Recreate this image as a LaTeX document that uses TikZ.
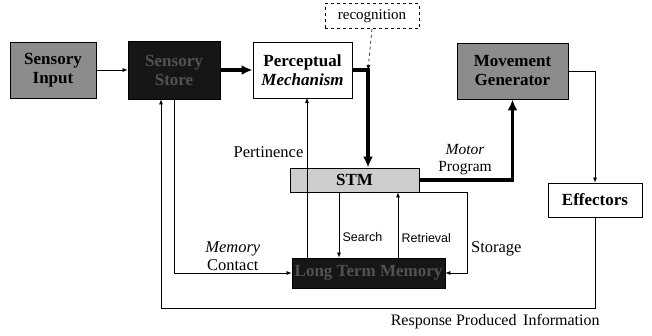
\documentclass[tikz,border=0pt]{standalone}
\usepackage{fontspec}
\setmainfont{Liberation Serif}
\setsansfont{Liberation Sans}
\usetikzlibrary{positioning,arrows.meta}
\definecolor{shd}{RGB}{140,140,140}
\definecolor{lit}{RGB}{205,205,205}
\definecolor{drk}{RGB}{22,22,22}

\begin{document}
\begin{tikzpicture}[x=1pt,y=-1pt,font=\fontsize{16.5}{18}\selectfont,>={Latex[length=5pt,width=4pt]},
  box/.style={draw,line width=0.9pt,inner sep=0pt,align=center,font=\fontsize{17}{19}\selectfont\bfseries},
  grey/.style={box,fill=shd},
  dark/.style={box,fill=drk,text=black!68},
  lbl/.style={align=center,inner sep=2pt},
  thin/.style={line width=0.6pt},
  fat/.style={line width=3.2pt,-{Latex[length=11pt,width=10pt]}}]
  \useasboundingbox (0,0) rectangle (652,335);
  % top row
  \node[grey,minimum width=86pt,minimum height=56pt] (sin) at (53,70) {Sensory\\Input};
  \node[dark,minimum width=92pt,minimum height=58pt] (sst) at (174,70) {Sensory\\Store};
  \node[box,minimum width=99pt,minimum height=56pt] (per) at (302.5,70) {Perceptual\\\textit{Mechanism}};
  \node[grey,minimum width=111pt,minimum height=56pt] (mov) at (512.5,71) {Movement\\Generator};
  \node[draw,dashed,thin,inner sep=0pt,minimum width=94pt,minimum height=25pt,font=\fontsize{15}{17}\selectfont] (rec) at (372,16) {recognition};
  % middle and bottom
  \node[box,fill=lit,minimum width=129pt,minimum height=24pt] (stm) at (354.5,180) {STM};
  \node[box,minimum width=94pt,minimum height=34pt] (eff) at (595,200) {Effectors};
  \node[dark,minimum width=153pt,minimum height=30pt] (ltm) at (368.5,273) {Long Term Memory};
  \coordinate (rk) at (368,70);
  \coordinate (pt) at (307,98);
  \coordinate (sr) at (339,0);
  \coordinate (rt) at (398,0);
  \coordinate (fb) at (161,308);
  % connectors
  \draw[thin,->] (sin) -- (sst);
  \draw[fat] (sst) -- (per);
  \draw[fat] (per.east) -- (rk) -- (rk |- stm.north);
  \draw[thin,dashed,->] (rec.south) -- (rk);
  \draw[fat] (stm.east) -| (mov.south);
  \node[lbl,font=\fontsize{15.5}{17}\selectfont] (mp) at (465,160) {\textit{Motor}\\Program};
  \draw[thin,->] (mov.east) -| (eff.north);
  \draw[thin,->] (eff.south) |- node[below,pos=0.615,yshift=-3pt,font=\fontsize{16}{18}\selectfont]{Response Produced\, Information} (fb) -- (fb |- sst.south);
  \draw[thin,->] (sst.south) |- node[above,pos=0.75,lbl]{\textit{Memory}\\Contact} (ltm.west);
  \draw[thin,->] (pt |- ltm.north) -- node[left,pos=0.66]{Pertinence} (pt);
  \draw[thin,->] (sr |- stm.south) -- node[right,pos=0.68,font=\sffamily\fontsize{12.5}{14}\selectfont]{Search} (sr |- ltm.north);
  \draw[thin,->] (rt |- ltm.north) -- node[right,pos=0.3,font=\sffamily\fontsize{12.5}{14}\selectfont]{Retrieval} (rt |- stm.south);
  \draw[thin,->] (stm.south east) -- ++(48,0) |- node[right,pos=0.35]{Storage} (ltm.east);
\end{tikzpicture}
\end{document}
